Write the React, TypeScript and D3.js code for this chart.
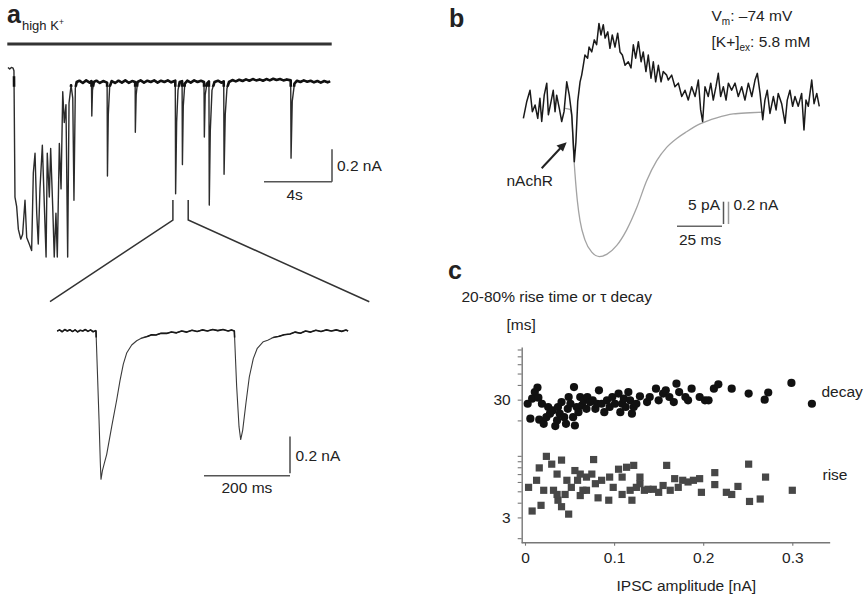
import { useEffect, useRef } from "react";
import * as d3 from "d3";

type Pt = [number, number];

// panel a, upper trace in high K+: time [s], current [nA]
const HIGH_K_TRACE: Pt[] = [
  [0, 0.09], [0.1, 0.08], [0.2, 0.09], [0.3, 0.085], [0.35, 0.07],
  [0.41, -0.71], [0.51, -0.77], [0.61, -0.91], [0.75, -0.97], [0.86, -0.94], [1.0, -0.73],
  [1.1, -0.96], [1.25, -1.0], [1.39, -1.04], [1.49, -0.56], [1.59, -0.44], [1.69, -0.81],
  [1.78, -1.0], [1.88, -0.66], [2.02, -0.39], [2.14, -0.77], [2.24, -1.08], [2.31, -0.44],
  [2.43, -0.71], [2.51, -0.41], [2.63, -0.77], [2.72, -1.08], [2.82, -0.81], [2.9, -1.08],
  [3.02, -0.38], [3.12, -0.66], [3.22, -0.06], [3.31, -0.25], [3.41, -0.14], [3.51, -1.08],
  [3.59, -0.13], [3.71, -0.02], [3.81, -0.1], [3.88, -0.73], [3.96, -0.04], [4.04, 0.0],
  [4.2, 0.008], [4.4, -0.006], [4.6, 0.01], [4.8, -0.004], [4.91, 0.006], [4.93, -0.21],
  [4.97, -0.05], [5.05, 0.0], [5.2, 0.008], [5.4, -0.006], [5.6, 0.006], [5.83, -0.004],
  [5.85, -0.58], [5.9, -0.2], [5.98, -0.03], [6.1, 0.006], [6.3, -0.006], [6.5, 0.008],
  [6.7, -0.004], [6.9, 0.01], [7.1, -0.005], [7.3, 0.006], [7.48, 0.0], [7.49, -0.31],
  [7.54, -0.08], [7.62, 0.0], [7.8, 0.01], [8.0, -0.004], [8.2, 0.008], [8.4, 0.0],
  [8.6, 0.01], [8.8, -0.004], [9.0, 0.008], [9.2, 0.0], [9.4, 0.01], [9.6, -0.002],
  [9.84, 0.008], [9.86, -0.69], [9.92, -0.25], [10.0, -0.05], [10.1, 0.0], [10.24, 0.005],
  [10.26, -0.51], [10.31, -0.15], [10.4, -0.01], [10.55, 0.008], [10.75, -0.004], [10.95, 0.01],
  [11.15, 0.0], [11.35, 0.008], [11.53, 0.0], [11.55, -0.34], [11.6, -0.08], [11.7, -0.01],
  [11.82, 0.004], [11.84, -0.76], [11.9, -0.3], [12.0, -0.05], [12.15, 0.0], [12.35, 0.008],
  [12.55, -0.004], [12.69, 0.004], [12.71, -0.57], [12.78, -0.2], [12.88, -0.04], [13.0, 0.0],
  [13.2, 0.012], [13.4, 0.004], [13.6, 0.014], [13.8, 0.006], [14.0, 0.016], [14.2, 0.008],
  [14.4, 0.018], [14.6, 0.01], [14.8, 0.016], [15.0, 0.008], [15.2, 0.018], [15.4, 0.01],
  [15.6, 0.02], [15.8, 0.012], [16.0, 0.018], [16.2, 0.01], [16.4, 0.016], [16.63, 0.01],
  [16.65, -0.47], [16.72, -0.12], [16.85, -0.01], [17.0, 0.008], [17.2, 0.0], [17.4, 0.01],
  [17.6, 0.002], [17.8, 0.008], [18.0, -0.002], [18.2, 0.006], [18.4, -0.004], [18.6, 0.006],
  [18.8, -0.002], [18.95, 0.004],
];

// panel a, expanded pair of IPSCs: time [ms], current [nA]
const ZOOM_TRACE: Pt[] = [
  [0, 0], [6, 0.006], [12, -0.004], [18, 0.008], [24, 0.0], [30, 0.007], [36, -0.003],
  [42, 0.006], [48, -0.005], [54, 0.004], [60, 0.0], [66, 0.008], [72, -0.002], [78, 0.006],
  [84, -0.004], [90, 0.002], [90.7, 0], [93.8, -0.21], [97.7, -0.48], [100.8, -0.72],
  [102.3, -0.806], [105.5, -0.76], [110, -0.72], [115.6, -0.67], [127.2, -0.52], [138.8, -0.375],
  [146.5, -0.27], [154.2, -0.18], [162, -0.12], [173.7, -0.076], [185.3, -0.053], [196, -0.04],
  [208.6, -0.031], [220, -0.02], [230, -0.022], [242, -0.012], [255, -0.013], [266, -0.005],
  [278, -0.01], [290, 0.0], [302, -0.006], [314, 0.004], [326, -0.003], [338, 0.006],
  [350, 0.0], [362, 0.008], [374, 0.002], [386, 0.008], [398, 0.0], [406, 0.006], [412.4, 0],
  [417.8, -0.3], [423.3, -0.52], [427.2, -0.59], [431.8, -0.54], [439.5, -0.39], [447.2, -0.25],
  [456.5, -0.15], [465.8, -0.094], [479.8, -0.058], [490, -0.05], [503, -0.036], [515, -0.03],
  [528, -0.02], [541.9, -0.016], [554, -0.006], [566, -0.012], [578, 0.0], [590, -0.006],
  [602, 0.004], [614, -0.003], [626, 0.006], [638, 0.0], [650, 0.006], [662, -0.002],
  [672, 0.005], [677, 0.0],
];

// panel b, averaged current at -74 mV: time [ms], current [pA]
const AVG_TRACE: Pt[] = [
  [0.2, -3.0], [2.1, 0.8], [3.9, 3.3], [5.2, -1.5], [6.7, 0], [8.2, -3.0], [9.4, 1.5],
  [10.4, -3.7], [11.8, 2.2], [13.2, 4.9], [14.1, -2.2], [15.6, 0.8], [16.8, 3.3], [17.8, -1.5],
  [18.7, 2.2], [20.2, -0.8], [21.5, -3.7], [22.8, -1.5], [24.3, 5.2], [25.7, 2.2], [27.1, -2.2],
  [28.5, -12.7], [29.4, -8.3], [30.4, 0.8], [31.7, 5.2], [32.6, 6.7], [33.5, 8.9], [34.4, 11.2],
  [35.9, 10.5], [36.7, 13.0], [38.2, 11.9], [39.6, 14.6], [40.9, 13.5], [42.2, 18.3], [43.3, 15.7],
  [44.6, 18.0], [45.6, 15.0], [47.1, 16.4], [48.3, 12.7], [49.6, 15.7], [51.1, 13.0], [52.6, 16.1],
  [53.9, 11.9], [55.2, 11.2], [56.7, 8.9], [58.5, 9.7], [60.0, 8.3], [61.3, 13.5], [62.6, 10.5],
  [64.1, 14.2], [65.6, 9.7], [66.8, 11.9], [68.3, 7.5], [69.6, 11.2], [71.1, 6.0], [72.4, 9.7],
  [73.7, 5.2], [75.2, 8.9], [76.7, 5.2], [77.9, 7.5], [79.8, 6.7], [80.7, 5.6], [82.6, 6.7],
  [84.4, 4.1], [86.3, 4.9], [88.2, 1.9], [90.0, 3.3], [91.8, 1.1], [93.7, 4.1], [95.6, 1.9],
  [97.4, 5.6], [98.7, -1.1], [99.8, -3.7], [101.1, 4.1], [102.9, 1.9], [104.3, 4.9], [105.7, 1.1],
  [107.2, 4.1], [108.5, 7.1], [109.8, 1.9], [111.3, 4.1], [112.8, 1.1], [114.1, 4.9], [115.9, 3.3],
  [117.8, 4.9], [119.6, 1.9], [121.5, 4.1], [123.3, 1.1], [125.2, 4.9], [127.1, 1.9], [128.9, 5.6],
  [130.2, 7.1], [131.7, 2.6], [133.2, -3.3], [134.4, 1.1], [135.7, 3.3], [137.2, -1.9], [139.1, 1.9],
  [140.6, -1.1], [141.8, 2.6], [143.7, 0.3], [145.6, -4.1], [146.8, 1.1], [148.3, 3.3], [149.8, -0.3],
  [151.1, 1.9], [152.9, -0.3], [154.8, 2.6], [156.1, -5.6], [157.2, 1.1], [158.5, -0.3], [160.4, 5.6],
  [161.7, 0.3], [163.2, 2.6], [164.6, -0.3],
];

// panel b, IPSC in the same cell (grey): time [ms], current [nA]
const IPSC_TRACE: Pt[] = [
  [23.3, 0], [26.1, -0.01], [27.1, -0.08], [27.9, -0.35], [28.9, -0.59], [30.2, -0.83],
  [31.7, -1.01], [34.4, -1.18], [38.2, -1.29], [42.4, -1.33], [46.5, -1.31], [52.1, -1.23],
  [57.6, -1.09], [63.2, -0.89], [68.7, -0.65], [74.3, -0.47], [79.8, -0.35], [85.4, -0.27],
  [90.9, -0.21], [98.3, -0.14], [107.6, -0.085], [116.8, -0.05], [126.1, -0.04], [133.5, -0.034],
];

// panel c: IPSC amplitude [nA], tau decay [ms]
const DECAY_POINTS: Pt[] = [
  [0.003, 27.7], [0.008, 30.6], [0.006, 20.7], [0.011, 34.8], [0.014, 38.0], [0.015, 31.2],
  [0.016, 20.3], [0.019, 27.7], [0.021, 18.7], [0.024, 21.3], [0.026, 26.0], [0.028, 22.8],
  [0.031, 24.3], [0.034, 17.9], [0.036, 20.0], [0.037, 26.0], [0.039, 22.8], [0.041, 28.6],
  [0.044, 21.3], [0.046, 18.7], [0.048, 25.1], [0.049, 31.6], [0.051, 27.7], [0.054, 21.3],
  [0.055, 38.4], [0.056, 18.1], [0.058, 26.0], [0.06, 23.5], [0.062, 31.6], [0.064, 26.8],
  [0.066, 29.6], [0.069, 25.1], [0.07, 31.6], [0.073, 28.6], [0.076, 29.6], [0.079, 25.1],
  [0.081, 27.7], [0.083, 36.0], [0.086, 27.7], [0.089, 23.5], [0.092, 29.6], [0.095, 26.0],
  [0.098, 31.6], [0.101, 27.7], [0.105, 33.8], [0.107, 23.5], [0.109, 27.7], [0.111, 30.6],
  [0.113, 26.0], [0.116, 34.8], [0.118, 29.6], [0.12, 22.8], [0.122, 26.0], [0.125, 27.7],
  [0.129, 32.0], [0.137, 28.6], [0.14, 31.6], [0.147, 37.2], [0.15, 29.6], [0.155, 33.8],
  [0.158, 36.0], [0.162, 31.6], [0.167, 28.6], [0.17, 41.0], [0.173, 34.8], [0.18, 31.6],
  [0.183, 29.6], [0.187, 37.2], [0.196, 31.6], [0.202, 29.6], [0.206, 29.6], [0.212, 37.2],
  [0.217, 40.5], [0.232, 37.2], [0.251, 33.8], [0.269, 30.0], [0.273, 34.5], [0.299, 41.6],
  [0.322, 27.7],
];

// panel c: IPSC amplitude [nA], 20-80% rise time [ms]
const RISE_POINTS: Pt[] = [
  [0.024, 9.9], [0.016, 7.9], [0.03, 8.5], [0.041, 9.2], [0.077, 9.3], [0.008, 3.4],
  [0.018, 3.8], [0.004, 5.4], [0.013, 6.2], [0.021, 5.1], [0.032, 5.1], [0.036, 7.0],
  [0.037, 4.2], [0.041, 3.7], [0.049, 3.2], [0.045, 4.7], [0.052, 5.4], [0.056, 7.5],
  [0.059, 6.2], [0.062, 4.6], [0.065, 5.1], [0.069, 6.6], [0.075, 7.0], [0.079, 5.8],
  [0.082, 4.4], [0.086, 6.2], [0.094, 4.2], [0.095, 6.6], [0.099, 5.4], [0.105, 7.7],
  [0.109, 6.6], [0.114, 8.0], [0.118, 5.1], [0.12, 4.2], [0.122, 8.3], [0.125, 5.4],
  [0.129, 6.6], [0.134, 5.1], [0.138, 5.2], [0.144, 5.2], [0.15, 4.9], [0.155, 5.6],
  [0.159, 8.3], [0.163, 5.1], [0.168, 6.4], [0.172, 5.4], [0.177, 6.2], [0.183, 6.0],
  [0.189, 6.2], [0.198, 4.9], [0.196, 6.4], [0.213, 7.2], [0.213, 5.7], [0.226, 4.9],
  [0.232, 4.7], [0.239, 5.5], [0.251, 8.5], [0.252, 4.1], [0.264, 4.3], [0.27, 6.6],
  [0.3, 5.1], [0.036, 4.7], [0.047, 6.2], [0.069, 5.1], [0.109, 4.7], [0.129, 5.8],
  [0.062, 7.0],
];

const X_TICKS_C = [0, 0.1, 0.2, 0.3];
const Y_TICKS_C = [2, 3, 4, 5, 6, 7, 8, 9, 10, 20, 30, 40, 50, 60, 70, 80];
const Y_LABELS_C = [3, 30];
const ZOOM_WINDOW = [9.7, 10.6]; // s, part of the upper trace that is expanded

const FONT = "'Liberation Sans', Arial, Helvetica, sans-serif";
const INK = "#222";

export default function App() {
  const ref = useRef<SVGSVGElement | null>(null);

  useEffect(() => {
    if (!ref.current) return;
    const svg = d3.select(ref.current);
    svg.selectAll("*").remove();
    svg.attr("font-family", FONT);

    const text = (x: number, y: number, s: string, size = 15.5, anchor = "start", weight = "normal") =>
      svg
        .append("text")
        .attr("x", x)
        .attr("y", y)
        .attr("font-size", size)
        .attr("text-anchor", anchor)
        .attr("font-weight", weight)
        .attr("fill", INK)
        .text(s);

    const seg = (x1: number, y1: number, x2: number, y2: number, color = "#444", w = 1.5) =>
      svg
        .append("line")
        .attr("x1", x1)
        .attr("y1", y1)
        .attr("x2", x2)
        .attr("y2", y2)
        .attr("stroke", color)
        .attr("stroke-width", w);

    const defs = svg.append("defs");

    // ---------- panel a ----------
    text(7, 23, "a", 25, "start", "bold");
    const hk = text(22, 29.5, "high K", 13);
    hk.append("tspan").attr("font-size", 8.5).attr("dy", -5).text("+");
    seg(7.3, 44, 331.7, 44, "#333", 3.2);

    const xA = d3.scaleLinear().domain([0, 19]).range([8, 8 + 19 * 17]);
    const yA = d3.scaleLinear().domain([0, -1]).range([82, 82 + 162]);
    const lineA = d3.line<Pt>().x((d) => xA(d[0])).y((d) => yA(d[1]));
    svg
      .append("path")
      .datum(HIGH_K_TRACE)
      .attr("fill", "none")
      .attr("stroke", "#2b2b2b")
      .attr("stroke-width", 1.4)
      .attr("stroke-linejoin", "round")
      .attr("d", lineA);
    // the noisy baseline reads thicker than the fast events
    defs
      .append("clipPath")
      .attr("id", "baseA")
      .append("rect")
      .attr("x", xA(0))
      .attr("y", yA(0.035))
      .attr("width", xA(19) - xA(0))
      .attr("height", yA(-0.03) - yA(0.035));
    svg
      .append("path")
      .datum(HIGH_K_TRACE)
      .attr("clip-path", "url(#baseA)")
      .attr("fill", "none")
      .attr("stroke", "#111")
      .attr("stroke-width", 2.6)
      .attr("stroke-linejoin", "round")
      .attr("d", lineA);

    // scale bar 4 s / 0.2 nA
    const barA = { x: 332, y: 181.7 };
    seg(barA.x - (xA(4) - xA(0)), barA.y, barA.x, barA.y, "#555", 1.6);
    seg(barA.x, barA.y, barA.x, barA.y - (yA(-0.2) - yA(0)), "#555", 1.6);
    text(337, 171, "0.2 nA");
    text(286.5, 199.5, "4s");

    // expansion bracket
    const zl = xA(ZOOM_WINDOW[0]);
    const zr = xA(ZOOM_WINDOW[1]);
    svg
      .append("polyline")
      .attr("points", `${zl},200 ${zl},220 50,301.7`)
      .attr("fill", "none")
      .attr("stroke", "#333")
      .attr("stroke-width", 1.5);
    svg
      .append("polyline")
      .attr("points", `${zr},200 ${zr},220 369.3,301.7`)
      .attr("fill", "none")
      .attr("stroke", "#333")
      .attr("stroke-width", 1.5);

    const xZ = d3.scaleLinear().domain([0, 200]).range([57, 57 + 86]);
    const yZ = d3.scaleLinear().domain([0, -1]).range([331, 331 + 184]);
    const lineZ = d3.line<Pt>().x((d) => xZ(d[0])).y((d) => yZ(d[1]));
    svg
      .append("path")
      .datum(ZOOM_TRACE)
      .attr("fill", "none")
      .attr("stroke", "#3a3a3a")
      .attr("stroke-width", 1.1)
      .attr("stroke-linejoin", "round")
      .attr("d", lineZ);
    defs
      .append("clipPath")
      .attr("id", "baseZ")
      .append("rect")
      .attr("x", xZ(0))
      .attr("y", yZ(0.02))
      .attr("width", xZ(680) - xZ(0))
      .attr("height", yZ(-0.035) - yZ(0.02));
    svg
      .append("path")
      .datum(ZOOM_TRACE)
      .attr("clip-path", "url(#baseZ)")
      .attr("fill", "none")
      .attr("stroke", "#1a1a1a")
      .attr("stroke-width", 1.6)
      .attr("stroke-linejoin", "round")
      .attr("d", lineZ);

    const barZ = { x: 290, y: 473.3 };
    seg(barZ.x - (xZ(200) - xZ(0)), barZ.y + 2.4, barZ.x, barZ.y + 2.4, "#555", 1.6);
    seg(barZ.x, barZ.y, barZ.x, barZ.y - (yZ(-0.2) - yZ(0)), "#555", 1.6);
    text(295.5, 460.5, "0.2 nA");
    text(221.5, 492.5, "200 ms");

    // ---------- panel b ----------
    text(449, 27, "b", 25, "start", "bold");
    const vm = text(711.5, 20.5, "V");
    vm.append("tspan").attr("font-size", 10).attr("dy", 4).text("m");
    vm.append("tspan").attr("dy", -4).text(": –74 mV");
    const kx = text(711.5, 47, "[K+]");
    kx.append("tspan").attr("font-size", 10).attr("dy", 4).text("ex");
    kx.append("tspan").attr("dy", -4).text(": 5.8 mM");

    const xB = d3.scaleLinear().domain([0, 25]).range([523, 523 + 45]);
    const yBk = d3.scaleLinear().domain([0, 5]).range([105, 105 - 22.3]);
    const yGr = d3.scaleLinear().domain([0, -0.2]).range([108.3, 108.3 + 22.3]);

    svg
      .append("path")
      .datum(IPSC_TRACE)
      .attr("fill", "none")
      .attr("stroke", "#a3a3a3")
      .attr("stroke-width", 1.3)
      .attr("d", d3.line<Pt>().curve(d3.curveMonotoneX).x((d) => xB(d[0])).y((d) => yGr(d[1])));
    svg
      .append("path")
      .datum(AVG_TRACE)
      .attr("fill", "none")
      .attr("stroke", "#1a1a1a")
      .attr("stroke-width", 1.5)
      .attr("stroke-linejoin", "round")
      .attr("d", d3.line<Pt>().x((d) => xB(d[0])).y((d) => yBk(d[1])));

    // arrow to the nAchR component
    seg(541.7, 168.3, 561, 147.5, "#222", 2);
    svg
      .append("polygon")
      .attr("points", "566.7,142.3 556.5,145.5 563,151.5")
      .attr("fill", "#222");
    text(506.5, 186, "nAchR");

    const barB = { x: 723.5, y: 224 };
    seg(barB.x - 1.5 - (xB(25) - xB(0)), barB.y + 2.3, barB.x - 1.5, barB.y + 2.3, "#666", 1.5);
    seg(barB.x, barB.y, barB.x, barB.y + (yBk(5) - yBk(0)), "#555", 1.5);
    seg(barB.x + 5, barB.y, barB.x + 5, barB.y - (yGr(-0.2) - yGr(0)), "#999", 1.5);
    text(720, 210, "5 pA", 15.5, "end");
    text(733.5, 210, "0.2 nA");
    text(679, 245, "25 ms");

    // ---------- panel c ----------
    text(448, 278.5, "c", 25, "start", "bold");
    text(461.5, 301.5, "20-80% rise time or τ decay");
    text(506.5, 330, "[ms]");

    const xC = d3.scaleLinear().domain([0, 0.3]).range([525, 792.3]);
    const yC = d3.scaleLog().domain([1.83, 84]).range([542.7, 347]);
    const axisLeftX = 521.7;

    const gy = svg
      .append("g")
      .attr("transform", `translate(${axisLeftX},0)`)
      .call(
        d3
          .axisLeft(yC)
          .tickValues(Y_TICKS_C)
          .tickSize(4)
          .tickSizeOuter(0)
          .tickPadding(7)
          .tickFormat((d) => (Y_LABELS_C.includes(+d) ? String(d) : ""))
      );
    gy.select(".domain").attr("stroke", "#777").attr("stroke-width", 1.4);
    gy.selectAll(".tick line").attr("stroke", "#777").attr("stroke-width", 1.1);
    gy.selectAll(".tick text").attr("font-size", 15.5).attr("font-family", FONT).attr("fill", INK);

    const gx = svg
      .append("g")
      .attr("transform", "translate(0,542.7)")
      .call(
        d3
          .axisBottom(xC)
          .tickValues(X_TICKS_C)
          .tickSize(3)
          .tickPadding(6)
          .tickFormat((d) => (+d === 0 ? "0" : (+d).toFixed(1)))
      );
    gx.select(".domain").remove();
    gx.selectAll(".tick line").attr("stroke", "#777").attr("stroke-width", 1.1);
    gx.selectAll(".tick text").attr("font-size", 15.5).attr("font-family", FONT).attr("fill", INK);
    seg(axisLeftX, 542.7, xC(0.3425), 542.7, "#777", 1.4);

    svg
      .append("g")
      .selectAll("rect")
      .data(RISE_POINTS)
      .enter()
      .append("rect")
      .attr("x", (d) => xC(d[0]) - 3.6)
      .attr("y", (d) => yC(d[1]) - 3.6)
      .attr("width", 7.2)
      .attr("height", 7.2)
      .attr("fill", "#474747");

    svg
      .append("g")
      .selectAll("circle")
      .data(DECAY_POINTS)
      .enter()
      .append("circle")
      .attr("cx", (d) => xC(d[0]))
      .attr("cy", (d) => yC(d[1]))
      .attr("r", 4.1)
      .attr("fill", "#111");

    text(821.5, 397, "decay");
    text(822.5, 480, "rise");
    text(616.5, 591, "IPSC amplitude [nA]");
  }, []);

  return (
    <div style={{ position: "absolute", left: 0, top: 0, background: "#fff" }}>
      <svg ref={ref} width={864} height={598} style={{ display: "block" }} />
    </div>
  );
}
